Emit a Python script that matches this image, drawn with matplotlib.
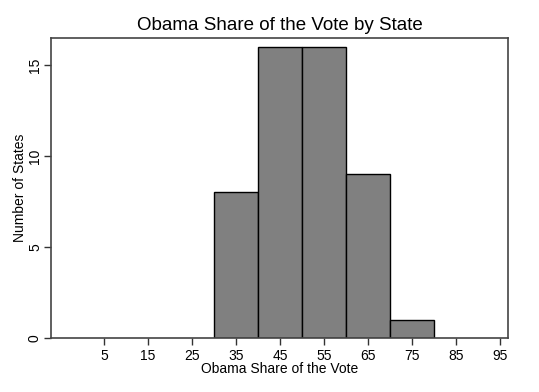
import matplotlib.pyplot as plt
import numpy as np

# histogram of Obama vote share, 10-point bins
bin_edges = [30, 40, 50, 60, 70, 80]
state_counts = [8, 16, 16, 9, 1]
x_ticks = [5, 15, 25, 35, 45, 55, 65, 75, 85, 95]
y_ticks = [0, 5, 10, 15]

plt.rcParams['font.family'] = ['Liberation Sans', 'DejaVu Sans']

fig = plt.figure(figsize=(5.39, 3.92), dpi=100)
ax = fig.add_axes([51 / 539, 1 - 338 / 392, 457 / 539, 300 / 392])

widths = np.diff(bin_edges)
ax.bar(bin_edges[:-1], state_counts, width=widths, align='edge',
       color='#808080', edgecolor='black', linewidth=1.0)

ax.set_xlim(-7, 96.8)
ax.set_ylim(0, 16.48)
ax.set_xticks(x_ticks)
ax.set_yticks(y_ticks)
ax.tick_params(axis='both', direction='out', length=5, width=1, colors='#333333',
               labelsize=10, labelcolor='black', pad=3)
ax.tick_params(axis='y', pad=1.5)
for lbl in ax.get_yticklabels():
    lbl.set_rotation(90)
    lbl.set_va('center')
for sp in ax.spines.values():
    sp.set_color('#444444')
    sp.set_linewidth(1.2)

ax.set_title('Obama Share of the Vote by State', fontsize=13.5, pad=6)
ax.set_xlabel('Obama Share of the Vote', fontsize=10, labelpad=-1)
ax.set_ylabel('Number of States', fontsize=10)
ax.yaxis.set_label_coords(-0.053, 0.5)

fig.savefig('out.png', dpi=100)
plt.close(fig)
